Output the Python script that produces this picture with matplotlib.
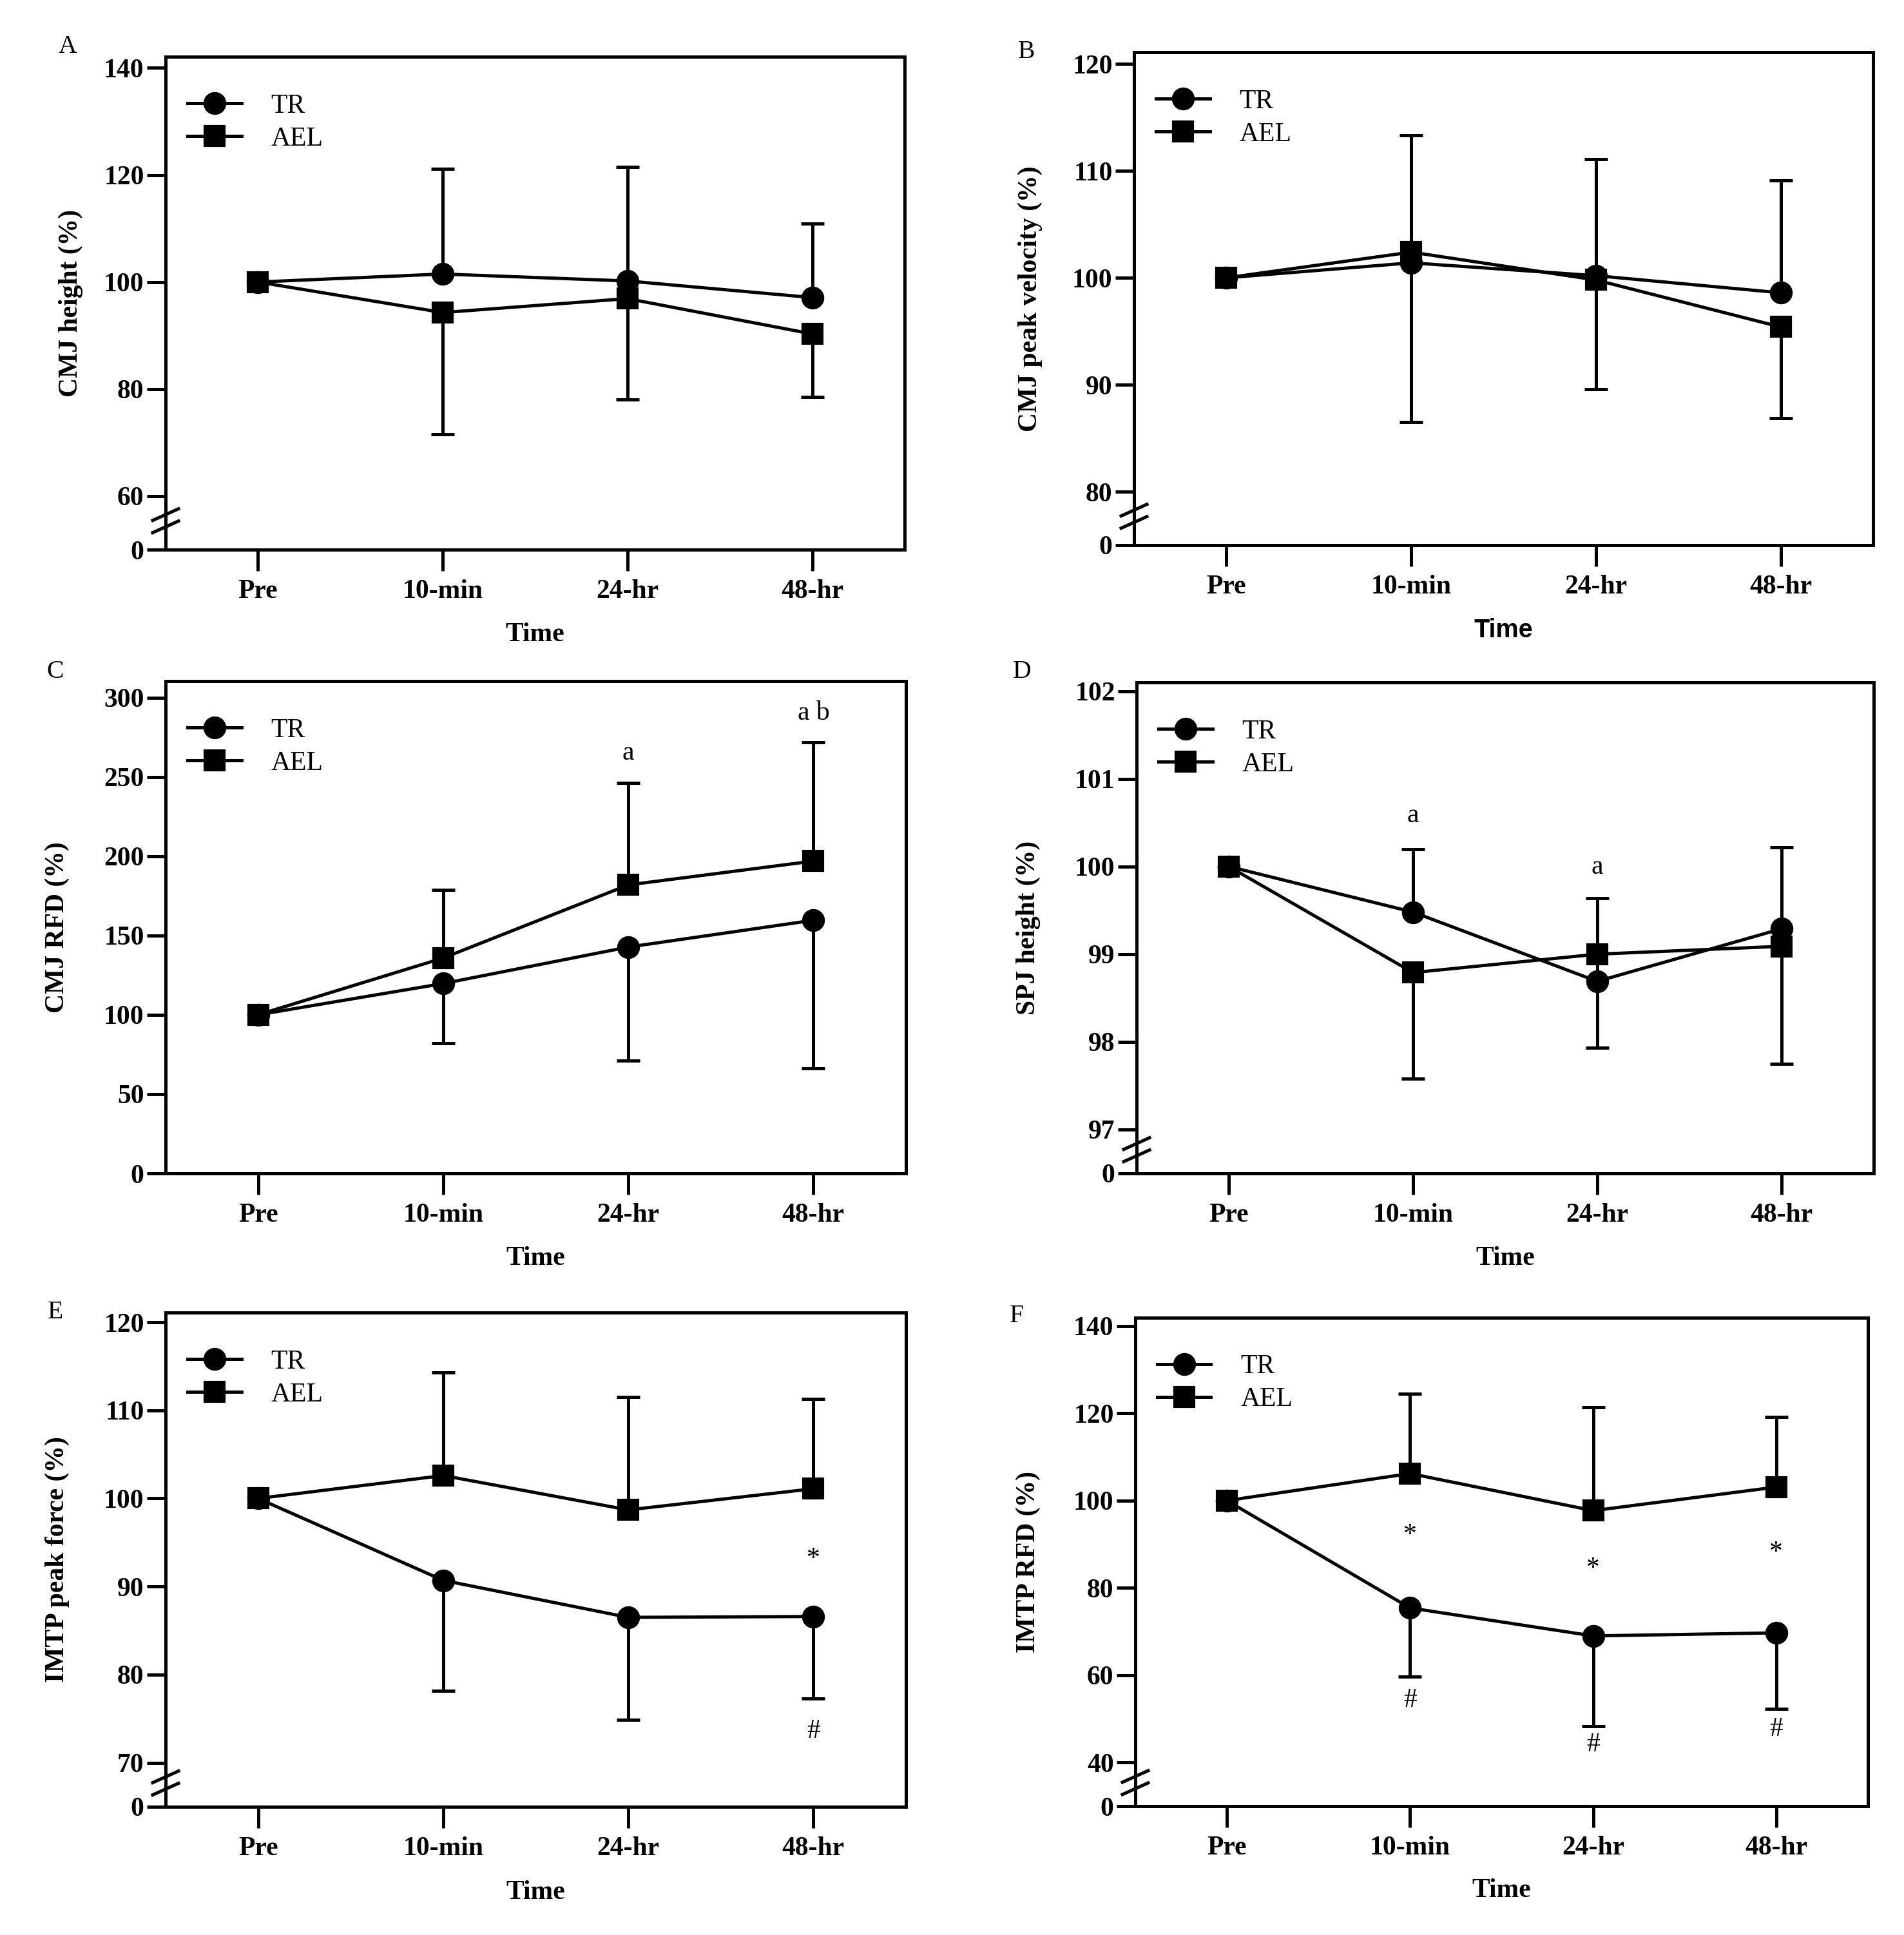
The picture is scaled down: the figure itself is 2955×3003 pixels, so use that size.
import numpy as np
import matplotlib
matplotlib.use('Agg')
import matplotlib.pyplot as plt
from matplotlib.lines import Line2D

plt.rcParams['font.family'] = 'serif'
plt.rcParams['font.serif'] = ['Liberation Serif', 'DejaVu Serif']

W, H = 2955, 3003
time_labels = ['Pre', '10-min', '24-hr', '48-hr']

# A - CMJ height
a_tr = [100, 101.5, 100.2, 97.1]
a_ael = [100, 94.3, 96.9, 90.3]
a_tr_sd = [0, 19.6, 21.3, 13.8]
a_ael_sd = [0, 22.8, 18.8, 11.8]

# B - CMJ peak velocity
b_tr = [100, 101.4, 100.2, 98.6]
b_ael = [100, 102.4, 99.8, 95.4]
b_tr_sd = [0, 11.9, 10.9, 10.5]
b_ael_sd = [0, 15.9, 10.2, 8.5]

# C - CMJ RFD
c_tr = [100, 119.7, 142.7, 159.6]
c_ael = [100, 135.8, 181.9, 196.9]
c_tr_sd = [0, 37.8, 71.5, 93.5]
c_ael_sd = [0, 43.0, 64.2, 74.9]

# D - SPJ height
d_tr = [100, 99.48, 98.69, 99.29]
d_ael = [100, 98.79, 99.0, 99.09]
d_tr_sd = [0, 0.72, 0.95, 0.93]
d_ael_sd = [0, 1.21, 1.07, 1.34]

# E - IMTP peak force
e_tr = [100, 90.7, 86.5, 86.6]
e_ael = [100, 102.6, 98.7, 101.1]
e_tr_sd = [0, 12.5, 11.6, 9.3]
e_ael_sd = [0, 11.7, 12.8, 10.2]

# F - IMTP RFD
f_tr = [100, 75.4, 69.0, 69.7]
f_ael = [100, 106.2, 97.7, 103.1]
f_tr_sd = [0, 15.8, 20.7, 17.4]
f_ael_sd = [0, 18.3, 23.7, 16.0]

# significance marks: (time index, y, text)
c_marks = [(2, 265, 'a'), (3, 290, 'a b')]
d_marks = [(1, 100.58, 'a'), (2, 99.99, 'a')]
e_marks = [(3, 93.1, '*'), (3, 73.6, '#')]
f_marks = [(1, 92.1, '*'), (2, 84.3, '*'), (3, 88.1, '*'),
           (1, 54.2, '#'), (2, 44.0, '#'), (3, 47.6, '#')]

LW = 1.2
FS = 10


def px_box(l, r, t, b):
    return [l / W, 1 - b / H, (r - l) / W, (b - t) / H]


def one_sided(ax, x, y, sd, up):
    y = np.asarray(y, float)
    sd = np.asarray(sd, float)
    m = sd > 0
    z = np.zeros(m.sum())
    yerr = [z, sd[m]] if up else [sd[m], z]
    _, caps, _ = ax.errorbar(x[m], y[m], yerr=yerr, fmt='none', ecolor='black',
                             elinewidth=LW, capsize=4.3, capthick=LW, zorder=2)
    for c in caps:
        if np.allclose(c.get_ydata(), y[m]):
            c.set_visible(False)


def panel(fig, box, letter, letter_xy, tr, ael, tr_sd, ael_sd, tr_up, ylabel,
          yticks, ytop, brk, ylab_x, marks=(), xlab_font=None):
    ax = fig.add_axes(px_box(*box))
    x = np.arange(len(time_labels))
    if brk is not None:
        lo, gap = brk

        def fwd(v):
            v = np.asarray(v, float)
            return np.where(v >= lo, v, lo - gap * (lo - v) / lo)

        def inv(t):
            t = np.asarray(t, float)
            return np.where(t >= lo, t, lo - (lo - t) * lo / gap)

        ax.set_yscale('function', functions=(fwd, inv))
    ax.set_ylim(0, ytop)
    ax.set_xlim(-0.5, 3.5)

    one_sided(ax, x, tr, tr_sd, tr_up)
    one_sided(ax, x, ael, ael_sd, not tr_up)
    ax.plot(x, tr, '-o', color='black', lw=LW, ms=7.5, label='TR', zorder=3)
    ax.plot(x, ael, '-s', color='black', lw=LW, ms=7.3, label='AEL', zorder=3)

    ax.set_xticks(x)
    ax.set_xticklabels(time_labels, fontweight='bold', fontsize=FS)
    ax.set_yticks(yticks)
    ax.set_yticklabels([str(t) for t in yticks], fontweight='bold', fontsize=FS)
    ax.minorticks_off()
    ax.tick_params(axis='y', direction='out', length=7, width=LW, pad=1)
    ax.tick_params(axis='x', direction='out', length=8, width=LW, pad=3)
    for s in ax.spines.values():
        s.set_linewidth(LW)

    ax.set_ylabel(ylabel, fontweight='bold', fontsize=FS, va='center')
    ax.yaxis.set_label_coords(ylab_x, 0.5)
    if xlab_font:
        ax.set_xlabel('Time', fontweight='bold', fontsize=9.5, va='center',
                      family=xlab_font)
    else:
        ax.set_xlabel('Time', fontweight='bold', fontsize=FS, va='center')
    ax.xaxis.set_label_coords(0.5, -0.173)

    ax.legend(loc='upper left', bbox_to_anchor=(0.03, 0.925), frameon=False,
              fontsize=FS, handlelength=2.0, handletextpad=1.1,
              labelspacing=0.3, borderpad=0, borderaxespad=0)

    for i, yv, s in marks:
        ax.text(x[i], yv, s, ha='center', va='center', fontsize=FS)

    fig.text(letter_xy[0] / W, 1 - letter_xy[1] / H, letter, ha='center',
             va='center', fontsize=9.5)

    if brk is not None:
        lo, gap = brk
        frac = 0.54 * gap / (ytop - lo + gap)
        l, r, t, b = box
        cx = l
        cy = b - frac * (b - t)
        for dy in (-9.5, 9.5):
            fig.add_artist(Line2D([(cx - 20) / W, (cx + 20) / W],
                                  [1 - (cy + dy + 9) / H, 1 - (cy + dy - 9) / H],
                                  transform=fig.transFigure, color='black', lw=LW))
    return ax


fig = plt.figure(figsize=(W / 300, H / 300), dpi=300)

panel(fig, (257, 1404, 88, 853), 'A', (105, 72), a_tr, a_ael, a_tr_sd, a_ael_sd, True,
      'CMJ height (%)', [0, 60, 80, 100, 120, 140], 142.1, (60, 10), -0.128)
panel(fig, (1760, 2907, 81, 846), 'B', (1593, 80), b_tr, b_ael, b_tr_sd, b_ael_sd, True,
      'CMJ peak velocity (%)', [0, 80, 90, 100, 110, 120], 121.1, (80, 5), -0.141,
      xlab_font='Liberation Sans')
panel(fig, (257, 1406, 1057, 1821), 'C', (86, 1043), c_tr, c_ael, c_tr_sd, c_ael_sd, False,
      'CMJ RFD (%)', [0, 50, 100, 150, 200, 250, 300], 310.4, None, -0.146, c_marks)
panel(fig, (1764, 2908, 1059, 1821), 'D', (1586, 1043), d_tr, d_ael, d_tr_sd, d_ael_sd, True,
      'SPJ height (%)', [0, 97, 98, 99, 100, 101, 102], 102.1, (97, 0.5), -0.147, d_marks)
panel(fig, (257, 1406, 2037, 2804), 'E', (86, 2036), e_tr, e_ael, e_tr_sd, e_ael_sd, False,
      'IMTP peak force (%)', [0, 70, 80, 90, 100, 110, 120], 121.1, (70, 5), -0.146, e_marks)
panel(fig, (1762, 2899, 2045, 2803), 'F', (1578, 2043), f_tr, f_ael, f_tr_sd, f_ael_sd, False,
      'IMTP RFD (%)', [0, 40, 60, 80, 100, 120, 140], 141.9, (40, 10), -0.146, f_marks)

fig.savefig('out.png', dpi=300, facecolor='white')
